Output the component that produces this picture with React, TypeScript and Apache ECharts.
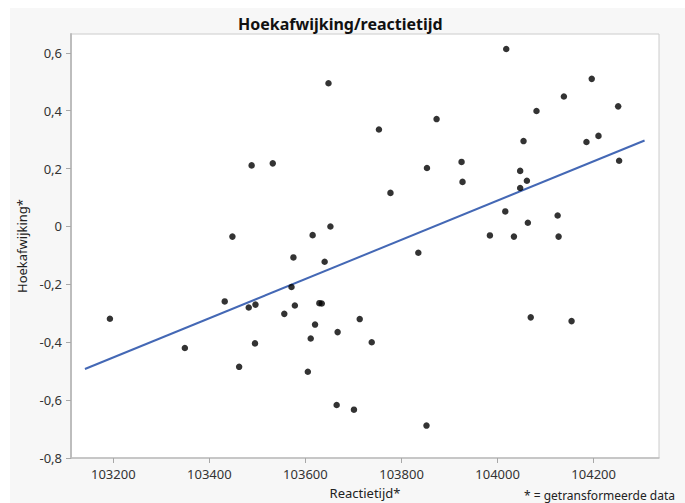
import React, { useEffect, useRef } from "react";
import * as echarts from "echarts";

// Reactietijd* (x) and Hoekafwijking* (y) per observation
const reactietijd = [
  103193, 103349, 103432, 103448, 103462, 103482, 103488, 103496, 103495, 103532,
  103556, 103571, 103575, 103578, 103605, 103611, 103615, 103620, 103629, 103634,
  103640, 103648, 103652, 103667, 103665, 103701, 103713, 103738, 103753, 103777,
  103835, 103853, 103852, 103873, 103925, 103927, 103984, 104018, 104016, 104034,
  104047, 104054, 104047, 104061, 104063, 104069, 104081, 104125, 104127, 104138,
  104154, 104185, 104196, 104210, 104251, 104253,
];
const hoekafwijking = [
  -0.319, -0.42, -0.259, -0.035, -0.485, -0.28, 0.211, -0.27, -0.404, 0.218,
  -0.302, -0.209, -0.107, -0.273, -0.502, -0.387, -0.03, -0.339, -0.265, -0.266,
  -0.122, 0.495, 0.0, -0.365, -0.617, -0.633, -0.32, -0.4, 0.335, 0.116,
  -0.091, 0.202, -0.688, 0.371, 0.223, 0.154, -0.031, 0.613, 0.052, -0.035,
  0.192, 0.295, 0.133, 0.158, 0.013, -0.314, 0.399, 0.038, -0.035, 0.449,
  -0.327, 0.292, 0.51, 0.313, 0.415, 0.227,
];

// Fitted line end points
const fitX = [103141, 104306];
const fitY = [-0.4926, 0.297];

const xTicks = [103200, 103400, 103600, 103800, 104000, 104200];
const yTicks = [-0.8, -0.6, -0.4, -0.2, 0, 0.2, 0.4, 0.6];

const FONT = "'Noto Sans', 'DejaVu Sans', sans-serif";

const fmtComma = (v: number) =>
  Math.abs(v) < 1e-9 ? "0" : v.toFixed(1).replace(".", ",");

export default function App() {
  const ref = useRef<HTMLDivElement>(null);

  useEffect(() => {
    if (!ref.current) return;
    const chart = echarts.init(ref.current, undefined, { renderer: "svg" });

    const points = reactietijd.map((x, i) => [x, hoekafwijking[i]]);
    const fit = fitX.map((x, i) => [x, fitY[i]]);

    chart.setOption({
      animation: false,
      backgroundColor: "#f7f7f7",
      title: {
        text: "Hoekafwijking/reactietijd",
        left: 223,
        top: 3,
        textStyle: {
          fontFamily: FONT,
          fontSize: 16,
          fontWeight: "bold",
          color: "#111",
        },
      },
      grid: {
        left: 61,
        top: 26,
        right: 26,
        bottom: 45,
        outerBoundsMode: "none",
        containLabel: false,
        show: true,
        backgroundColor: "#ffffff",
        borderColor: "#cccccc",
        borderWidth: 1,
      },
      xAxis: {
        type: "value",
        min: 103112,
        max: 104336,
        name: "Reactietijd*",
        nameLocation: "middle",
        nameGap: 28,
        nameTextStyle: { fontFamily: FONT, fontSize: 13, color: "#222" },
        axisLine: {
          show: true,
          onZero: false,
          lineStyle: { color: "#bdbdbd", width: 1.5 },
        },
        axisTick: {
          show: true,
          customValues: xTicks,
          length: 5,
          lineStyle: { color: "#a8a8a8" },
        },
        axisLabel: {
          customValues: xTicks,
          margin: 9,
          fontFamily: FONT,
          fontSize: 13,
          color: "#333",
          formatter: (v: number) => String(Math.round(v)),
        },
        splitLine: { show: false },
      },
      yAxis: {
        type: "value",
        min: -0.8,
        max: 0.665,
        name: "Hoekafwijking*",
        nameLocation: "middle",
        nameGap: 43,
        nameTextStyle: { fontFamily: FONT, fontSize: 13, color: "#222" },
        axisLine: {
          show: true,
          onZero: false,
          lineStyle: { color: "#bdbdbd", width: 2 },
        },
        axisTick: {
          show: true,
          customValues: yTicks,
          length: 5,
          lineStyle: { color: "#a8a8a8" },
        },
        axisLabel: {
          customValues: yTicks,
          margin: 9,
          fontFamily: FONT,
          fontSize: 13,
          color: "#333",
          formatter: (v: number) => fmtComma(v),
        },
        splitLine: { show: false },
      },
      graphic: [
        {
          type: "text",
          right: 10,
          top: 481,
          style: {
            text: "* = getransformeerde data",
            font: `12px ${FONT}`,
            fill: "#222",
          },
        },
      ],
      series: [
        {
          type: "line",
          data: fit,
          showSymbol: false,
          symbol: "none",
          lineStyle: { color: "#4468b5", width: 2 },
          z: 2,
        },
        {
          type: "scatter",
          data: points,
          symbol: "circle",
          symbolSize: 6.5,
          itemStyle: { color: "#000000" },
          z: 3,
        },
      ],
    });

    return () => chart.dispose();
  }, []);

  return (
    <div
      ref={ref}
      style={{ position: "fixed", left: 10, top: 8, width: 675, height: 495 }}
    />
  );
}
